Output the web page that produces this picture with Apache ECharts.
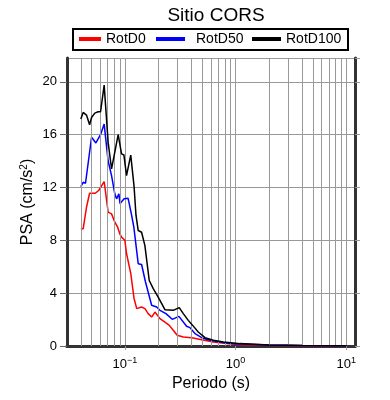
<!DOCTYPE html>
<html><head><meta charset="utf-8">
<script src="https://cdn.jsdelivr.net/npm/echarts@6/dist/echarts.min.js"></script>
<style>html,body{margin:0;padding:0;background:#fff}#c{width:390px;height:400px}</style>
</head><body><div id="c"></div>
<script>
const titleText = 'Sitio CORS';
const seriesNames = ['RotD0', 'RotD50', 'RotD100'];
const seriesColors = ['#ff0000', '#0000ff', '#000000'];

const periodsD0 = [0.04, 0.042, 0.045, 0.048, 0.054, 0.058, 0.065, 0.0706, 0.0758, 0.0812, 0.086, 0.09, 0.0933, 0.0966, 0.1, 0.1035, 0.113, 0.121, 0.128, 0.1416, 0.1517, 0.1625, 0.1745, 0.187, 0.2075, 0.23, 0.252, 0.2735, 0.297, 0.337, 0.402, 0.494, 0.63, 0.832, 1.1, 2, 4, 10];
const valuesD0  = [8.87, 8.87, 10.5, 11.56, 11.56, 11.77, 12.45, 10.13, 10.0, 9.37, 8.99, 8.49, 8.24, 8.11, 8.0, 7.0, 5.5, 3.6, 2.83, 2.95, 2.83, 2.45, 2.19, 2.57, 2.07, 1.81, 1.56, 1.19, 0.81, 0.68, 0.63, 0.48, 0.30, 0.18, 0.10, 0.05, 0.02, 0.01];

const periodsD50 = [0.04, 0.042, 0.0441, 0.05, 0.0547, 0.0603, 0.065, 0.0706, 0.0758, 0.0812, 0.0841, 0.0883, 0.0905, 0.0985, 0.107, 0.111, 0.115, 0.1205, 0.132, 0.1416, 0.153, 0.1745, 0.1937, 0.2075, 0.235, 0.268, 0.308, 0.361, 0.387, 0.43, 0.494, 0.587, 0.72, 0.89, 1.1, 2, 4, 10];
const valuesD50  = [12.07, 12.39, 12.32, 15.8, 15.37, 16.0, 16.8, 14.0, 12.9, 11.5, 11.14, 11.52, 10.78, 11.14, 11.18, 11.08, 9.9, 9.0, 6.23, 6.17, 4.9, 3.08, 2.95, 2.70, 2.45, 2.02, 2.24, 1.49, 1.39, 0.94, 0.63, 0.43, 0.30, 0.18, 0.15, 0.07, 0.03, 0.015];

const periodsD100 = [0.04, 0.042, 0.045, 0.048, 0.05, 0.0535, 0.0573, 0.0603, 0.065, 0.0706, 0.0758, 0.087, 0.0933, 0.098, 0.1035, 0.113, 0.121, 0.126, 0.132, 0.1416, 0.1517, 0.166, 0.1804, 0.2, 0.23, 0.2735, 0.31, 0.337, 0.374, 0.41, 0.46, 0.53, 0.63, 0.776, 0.956, 1.1, 2, 4, 10];
const valuesD100  = [17.18, 17.68, 17.48, 16.75, 17.30, 17.63, 17.73, 17.73, 19.75, 15.41, 13.4, 16.0, 14.54, 14.46, 12.9, 14.45, 12.1, 9.9, 8.74, 8.61, 7.6, 4.96, 4.34, 3.70, 2.75, 2.70, 2.90, 2.45, 1.94, 1.56, 1.06, 0.63, 0.43, 0.30, 0.23, 0.18, 0.08, 0.03, 0.02];

const minorGridPeriods = [0.04, 0.05, 0.06, 0.07, 0.08, 0.09, 0.2, 0.3, 0.4, 0.5, 0.6, 0.7, 0.8, 0.9, 2, 3, 4, 5, 6, 7, 8, 9];
const xMin = 0.03, xMax = 12;
const yMin = 0, yMax = 21.8, yStep = 4;

const FONT = '"Liberation Sans", Arial, Helvetica, sans-serif';
const GRIDC = '#999';
const FRAMEC = '#333';

const chart = echarts.init(document.getElementById('c'));

function pair(ps, vs) { return ps.map((p, i) => [p, vs[i]]); }
const dataSets = [pair(periodsD0, valuesD0), pair(periodsD50, valuesD50), pair(periodsD100, valuesD100)];

const legendPos = [
  { left: 79, textPad: 0, w: 22 },
  { left: 156, textPad: 6, w: 29 },
  { left: 252, textPad: 0, w: 29 }
];

const option = {
  animation: false,
  textStyle: { fontFamily: FONT },
  title: {
    text: titleText, left: 211, textAlign: 'center', top: 1,
    textStyle: { fontSize: 19, fontWeight: 'normal', color: '#000', fontFamily: FONT }
  },
  graphic: [{
    type: 'rect', shape: { x: 73, y: 29, width: 275, height: 21 },
    style: { fill: 'none', stroke: '#000', lineWidth: 2 }, z: 10
  }],
  legend: seriesNames.map((n, i) => ({
    data: [n], left: legendPos[i].left, top: 32, padding: 0,
    icon: 'rect', itemWidth: legendPos[i].w, itemHeight: 4,
    textStyle: { fontSize: 14, color: '#000', fontFamily: FONT, padding: [0, 0, 0, legendPos[i].textPad] },
    selectedMode: false
  })),
  grid: { left: 67, right: 35, top: 58, bottom: 54, containLabel: false },
  xAxis: [{
    type: 'log', logBase: 10, min: xMin, max: xMax, position: 'bottom',
    axisLine: { show: true, lineStyle: { color: FRAMEC, width: 3 } },
    axisTick: { show: true, length: 4, lineStyle: { color: GRIDC } },
    axisLabel: {
      showMinLabel: false, showMaxLabel: false, margin: 10, color: '#000',
      formatter: v => '{b|10}{s|' + Math.round(Math.log10(v)).toString().replace('-', '\u2212') + '}',
      rich: {
        b: { fontSize: 13, fontFamily: FONT, color: '#000', lineHeight: 16 },
        s: { fontSize: 9, fontFamily: FONT, color: '#000', verticalAlign: 'top', lineHeight: 10 }
      }
    },
    splitLine: { show: true, lineStyle: { color: GRIDC, width: 1 } },
    name: 'Periodo (s)', nameLocation: 'middle', nameGap: 30, nameMoveOverlap: false,
    nameTextStyle: { fontSize: 16, color: '#000', fontFamily: FONT }
  }, {
    type: 'log', logBase: 10, min: xMin, max: xMax, position: 'top',
    axisLine: { show: true, lineStyle: { color: FRAMEC, width: 3 } },
    axisTick: { show: false }, axisLabel: { show: false }, splitLine: { show: false }
  }],
  yAxis: [{
    type: 'value', min: yMin, max: yMax, interval: yStep, position: 'left',
    axisLine: { show: true, lineStyle: { color: FRAMEC, width: 3 } },
    axisTick: { show: true, length: 7, lineStyle: { color: '#666' } },
    axisLabel: { fontSize: 13, color: '#000', margin: 10, showMaxLabel: false, fontFamily: FONT },
    splitLine: { show: true, lineStyle: { color: GRIDC, width: 1 } },
    name: 'PSA (cm/s{sup|2})', nameLocation: 'middle', nameGap: 30, nameRotate: 90, nameMoveOverlap: false,
    nameTextStyle: {
      fontSize: 16, color: '#000', fontFamily: FONT, lineHeight: 18,
      rich: { sup: { fontSize: 10, fontFamily: FONT, color: '#000', verticalAlign: 'top', lineHeight: 10 } }
    }
  }, {
    type: 'value', min: yMin, max: yMax, interval: yStep, position: 'right',
    axisLine: { show: true, lineStyle: { color: FRAMEC, width: 3 } },
    axisTick: { show: true, length: 5, lineStyle: { color: GRIDC } },
    axisLabel: { show: false }, splitLine: { show: false }
  }],
  series: [{
    name: 'minor-grid', type: 'line', data: [], silent: true,
    markLine: {
      silent: true, symbol: ['none', 'none'], label: { show: false },
      lineStyle: { color: GRIDC, width: 1, type: 'solid' },
      emphasis: { disabled: true },
      data: minorGridPeriods.map(v => ({ xAxis: v }))
    }
  }].concat(seriesNames.map((n, i) => ({
    name: n, type: 'line', data: dataSets[i], showSymbol: false, symbol: 'none',
    color: seriesColors[i],
    lineStyle: { color: seriesColors[i], width: 1.5 }, z: 3 + i
  })))
};
chart.setOption(option);
</script>
</body></html>
